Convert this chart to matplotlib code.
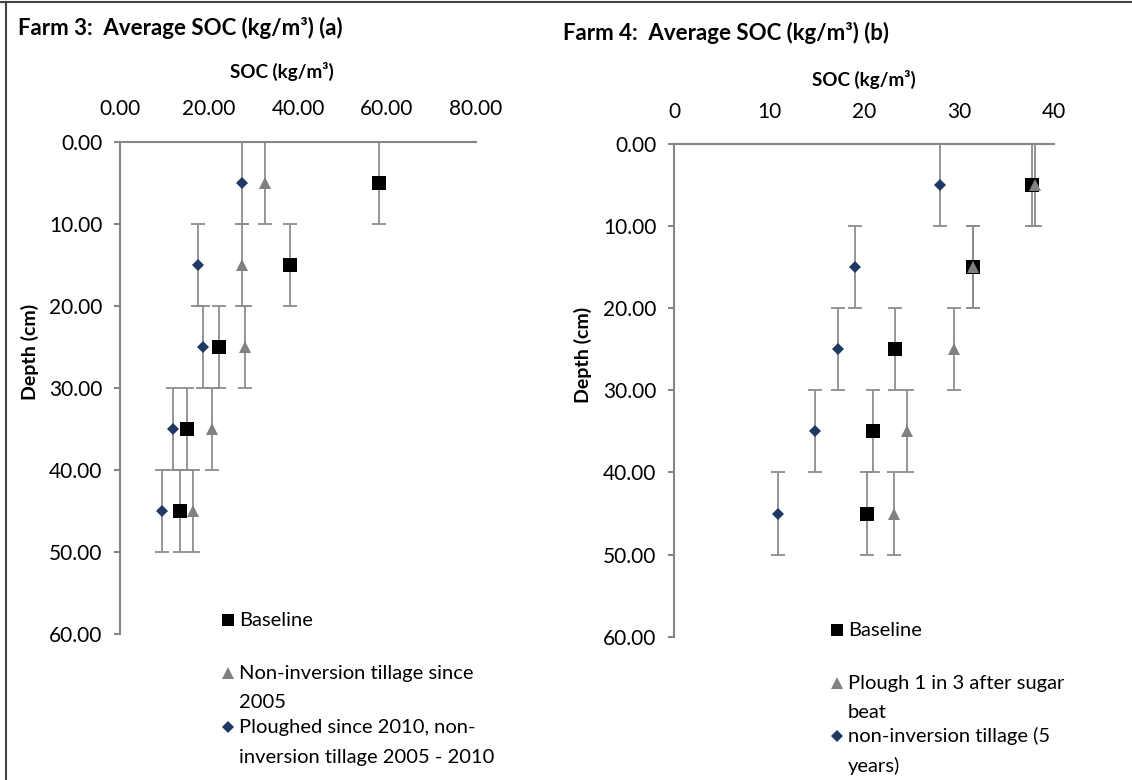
import matplotlib
matplotlib.use("Agg")
import matplotlib.pyplot as plt
from matplotlib.lines import Line2D
from matplotlib.ticker import FormatStrFormatter, MultipleLocator

plt.rcParams['font.family'] = ['Lato', 'DejaVu Sans']

# depth of each sampled layer (cm), +/- 5 cm error bars
depth = [5, 15, 25, 35, 45]
depth_err = [5, 5, 5, 5, 5]

# Farm 3 (a)
f3_baseline = [58.2, 38.2, 22.2, 15.0, 13.5]
f3_noninv = [32.6, 27.5, 28.2, 20.7, 16.5]
f3_ploughed = [27.5, 17.5, 18.7, 11.8, 9.4]
f3_labels = ["Baseline", "Non-inversion tillage since\n2005",
             "Ploughed since 2010, non-\ninversion tillage 2005 - 2010"]

# Farm 4 (b)
f4_baseline = [37.7, 31.4, 23.2, 20.9, 20.3]
f4_plough = [38.0, 31.4, 29.5, 24.5, 23.1]
f4_noninv = [28.0, 19.0, 17.2, 14.8, 10.9]
f4_labels = ["Baseline", "Plough 1 in 3 after sugar\nbeat",
             "non-inversion tillage (5\nyears)"]

W, H = 1132, 780
fig = plt.figure(figsize=(W / 100, H / 100), dpi=100)

ax_color = '#868686'
err_color = '#8c8c8c'
navy = '#1f3864'
grey = '#808080'

# marker styles: square baseline, triangle, diamond
styles = [dict(marker='s', color='black', ms=9.5),
          dict(marker='^', color=grey, ms=9),
          dict(marker='D', color=navy, ms=6)]


def draw_panel(rect, series, xmax, xstep, xfmt):
    ax = fig.add_axes(rect)
    for vals, st in zip(series, styles):
        ax.errorbar(vals, depth, yerr=depth_err, fmt='none', ecolor=err_color,
                    elinewidth=1.3, capsize=5, capthick=1.3, zorder=2)
        ax.plot(vals, depth, linestyle='none', marker=st['marker'], color=st['color'],
                markersize=st['ms'], markeredgewidth=0, zorder=3, clip_on=False)
    ax.set_xlim(0, xmax)
    ax.set_ylim(60, 0)
    ax.xaxis.set_major_locator(MultipleLocator(xstep))
    ax.yaxis.set_major_locator(MultipleLocator(10))
    ax.xaxis.set_major_formatter(FormatStrFormatter(xfmt))
    ax.yaxis.set_major_formatter(FormatStrFormatter('%.2f'))
    ax.xaxis.tick_top()
    ax.spines['right'].set_visible(False)
    ax.spines['bottom'].set_visible(False)
    for s in ['left', 'top']:
        ax.spines[s].set_color(ax_color)
        ax.spines[s].set_linewidth(1.5)
    ax.tick_params(axis='x', length=0, pad=16, labelsize=15, colors='black')
    ax.tick_params(axis='y', length=4.5, width=1.5, color=ax_color, pad=8, labelsize=15)
    return ax


axL = draw_panel([120 / W, 1 - 634 / H, 356 / W, 492.3 / H],
                 [f3_baseline, f3_noninv, f3_ploughed], 80, 20, '%.2f')
axR = draw_panel([674 / W, 1 - 636.7 / H, 380.3 / W, 492.7 / H],
                 [f4_baseline, f4_plough, f4_noninv], 40, 10, '%d')

# titles and axis labels
fig.text(18 / W, 1 - 28 / H, "Farm 3:  Average SOC (kg/m³) (a)", fontsize=16,
         fontweight='bold', va='center', ha='left')
fig.text(563 / W, 1 - 33 / H, "Farm 4:  Average SOC (kg/m³) (b)", fontsize=16,
         fontweight='bold', va='center', ha='left')
fig.text(282 / W, 1 - 71 / H, "SOC (kg/m³)", fontsize=13.5, fontweight='bold',
         ha='center', va='center')
fig.text(864 / W, 1 - 79 / H, "SOC (kg/m³)", fontsize=13.5, fontweight='bold',
         ha='center', va='center')
fig.text(30 / W, 1 - 352 / H, "Depth (cm)", fontsize=14, fontweight='bold',
         rotation=90, ha='center', va='center')
fig.text(583 / W, 1 - 355 / H, "Depth (cm)", fontsize=14, fontweight='bold',
         rotation=90, ha='center', va='center')


# hand-built legends (marker aligned with first text line like Excel)
def legend(xm, xt, ys, labels):
    for y, lab, st in zip(ys, labels, styles):
        fig.add_artist(Line2D([xm / W], [1 - y / H], marker=st['marker'],
                              color=st['color'], markersize=st['ms'] * 0.95,
                              markeredgewidth=0, linestyle='none',
                              transform=fig.transFigure))
        for i, line in enumerate(lab.split('\n')):
            fig.text(xt / W, 1 - (y + 30 * i) / H, line, fontsize=14.5,
                     ha='left', va='center')


legend(228, 239, [620, 673, 727], f3_labels)
legend(837, 848, [630, 683, 736], f4_labels)

# outer frame (top and left edges visible)
fig.add_artist(Line2D([0, 1], [1 - 2 / H, 1 - 2 / H], color='#444444', lw=1.5,
                      transform=fig.transFigure))
fig.add_artist(Line2D([5.5 / W, 5.5 / W], [0, 1 - 2 / H], color='#444444', lw=1.5,
                      transform=fig.transFigure))

fig.savefig("out.png", dpi=100)
